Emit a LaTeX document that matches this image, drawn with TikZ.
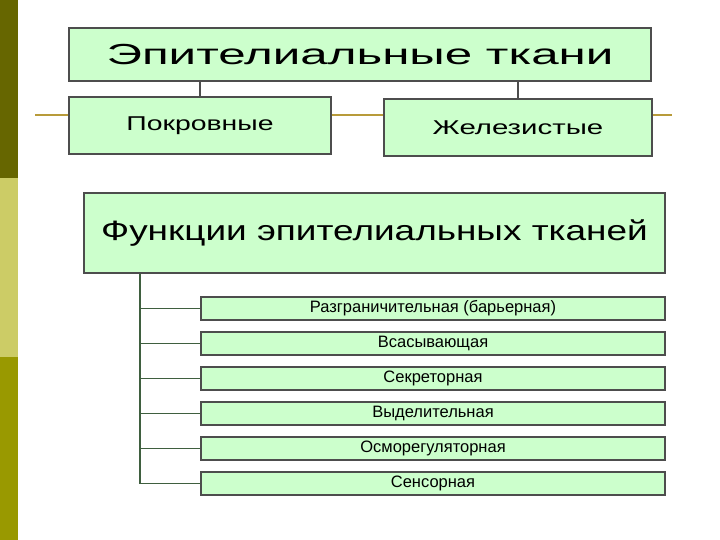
\documentclass[tikz,border=0pt]{standalone}
\usepackage{fontspec}
\usepackage{graphicx}
\setmainfont{Liberation Sans}
\definecolor{boxfill}{HTML}{CCFFCC}
\definecolor{boxline}{HTML}{4D4D4D}
\definecolor{goldline}{HTML}{B89B3A}
\definecolor{conngreen}{HTML}{3F5F3F}
\definecolor{barA}{HTML}{666600}
\definecolor{barB}{HTML}{CCCC66}
\definecolor{barC}{HTML}{999900}
\newcommand{\wtext}[3]{{\fontsize{#1}{#1}\selectfont\scalebox{#2}[1]{#3}}}
\begin{document}
\begin{tikzpicture}[x=1pt,y=-1pt,
  box/.style={draw=boxline, line width=2pt, fill=boxfill, inner sep=0pt, anchor=north west},
  fbox/.style={box, minimum width=464pt, minimum height=23pt, font=\fontsize{16.5}{16.5}\selectfont},
  conn/.style={draw=conngreen, line width=1.8pt},
  tconn/.style={draw=boxline, line width=1.8pt},
  gold/.style={draw=goldline, line width=2pt}]
\useasboundingbox (0,0) rectangle (720,540);
\fill[white] (0,0) rectangle (720,540);
% side bar
\fill[barA] (0,0) rectangle (18,178);
\fill[barB] (0,178) rectangle (18,357);
\fill[barC] (0,357) rectangle (18,540);
% top part
\node[box, minimum width=582pt, minimum height=53pt] (top) at (68,27) {\wtext{29}{1.7}{Эпителиальные ткани}};
\node[box, minimum width=262pt, minimum height=57pt] (pk) at (68,96) {\wtext{20}{1.42}{Покровные}};
\node[box, minimum width=268pt, minimum height=57pt] (zh) at (383,98) {\wtext{20}{1.47}{Железистые}};
\coordinate (L) at (35,115);
\coordinate (R) at (672,115);
\draw[gold] (L) -- (pk.west |- L);
\draw[gold] (pk.east |- L) -- (zh.west |- L);
\draw[gold] (zh.east |- L) -- (R);
\draw[tconn] (top.south -| pk.north) -- (pk.north);
\draw[tconn] (top.south -| zh.north) -- (zh.north);
% functions
\node[box, minimum width=581pt, minimum height=80pt] (fn) at (83,192) {\wtext{28}{1.32}{Функции эпителиальных тканей}};
\node[fbox] (f1) at (200,296) {Разграничительная (барьерная)};
\node[fbox] (f2) at (200,331) {Всасывающая};
\node[fbox] (f3) at (200,366) {Секреторная};
\node[fbox] (f4) at (200,401) {Выделительная};
\node[fbox] (f5) at (200,436) {Осморегуляторная};
\node[fbox] (f6) at (200,471) {Сенсорная};
\coordinate (sp) at (140,272);
\draw[conn] (fn.south -| sp) |- (f6.west);
\foreach \n in {f1,f2,f3,f4,f5}{\draw[conn] (sp |- \n.west) -- (\n.west);}
\end{tikzpicture}
\end{document}
